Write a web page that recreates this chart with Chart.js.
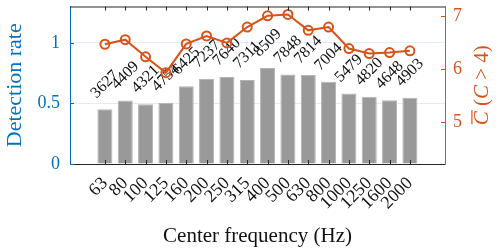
<!DOCTYPE html>
<html>
<head>
<meta charset="utf-8">
<script src="https://cdn.jsdelivr.net/npm/chart.js@4/dist/chart.umd.min.js"></script>
<style>
html,body{margin:0;padding:0;background:#fff;}
#wrap{width:500px;height:251px;position:relative;}
</style>
</head>
<body>
<div id="wrap"><canvas id="c" width="500" height="251"></canvas></div>
<script>
const categories = ['63','80','100','125','160','200','250','315','400','500','630','800','1000','1250','1600','2000'];
const detectionRate = [0.451,0.525,0.494,0.506,0.642,0.702,0.719,0.694,0.792,0.738,0.735,0.678,0.582,0.555,0.527,0.547];
const meanC = [6.467,6.553,6.231,5.933,6.473,6.622,6.492,6.790,7.000,7.026,6.728,6.790,6.386,6.292,6.311,6.343];
const counts = ['3627','4409','4321','4754','6425','7237','7640','7311','8509','7848','7814','7004','5479','4820','4648','4903'];
const leftTicks = [0,0.5,1];
const rightTicks = [5,6,7];

const BLUE = '#0072BD';
const ORANGE = '#D95319';
const DARK = '#262626';
const SERIF = '"Liberation Serif", "DejaVu Serif", serif';

const barPts = categories.map((c,i)=>({x:i+1,y:detectionRate[i]}));
const linePts = categories.map((c,i)=>({x:i+1,y:meanC[i]}));

const decor = {
  id:'decor',
  afterDatasetDraw(chart,args){
    if(args.index!==0) return;
    const ctx=chart.ctx;
    const meta=chart.getDatasetMeta(0);
    ctx.save();
    ctx.fillStyle='#111';
    ctx.font='16px '+SERIF;
    ctx.textAlign='center';
    ctx.textBaseline='middle';
    meta.data.forEach((el,i)=>{
      ctx.save();
      ctx.translate(el.x, el.y-25);
      ctx.rotate(-Math.PI/4);
      ctx.fillText(counts[i],0,0);
      ctx.restore();
    });
    ctx.restore();
  },
  afterDraw(chart){
    const ctx=chart.ctx, a=chart.chartArea;
    const xs=chart.scales.x, y=chart.scales.y, y2=chart.scales.y2;
    ctx.save();
    ctx.lineWidth=1;
    ctx.strokeStyle=DARK;
    ctx.beginPath();ctx.moveTo(a.left,a.top+0.5);ctx.lineTo(a.right,a.top+0.5);ctx.stroke();
    const tl=4;
    ctx.beginPath();
    for(let i=1;i<=categories.length;i++){
      const px=Math.round(xs.getPixelForValue(i))+0.5;
      ctx.moveTo(px,a.bottom);ctx.lineTo(px,a.bottom-tl);
      ctx.moveTo(px,a.top);ctx.lineTo(px,a.top+tl);
    }
    ctx.stroke();
    ctx.strokeStyle=BLUE;
    ctx.beginPath();
    leftTicks.forEach(v=>{const py=Math.round(y.getPixelForValue(v))+0.5;ctx.moveTo(a.left,py);ctx.lineTo(a.left+tl,py);});
    ctx.stroke();
    ctx.strokeStyle=ORANGE;
    ctx.beginPath();
    rightTicks.forEach(v=>{const py=Math.round(y2.getPixelForValue(v))+0.5;ctx.moveTo(a.right,py);ctx.lineTo(a.right-tl,py);});
    ctx.stroke();
    ctx.fillStyle=ORANGE;
    ctx.strokeStyle=ORANGE;
    ctx.translate(482,(a.top+a.bottom)/2);
    ctx.rotate(-Math.PI/2);
    const fs=21;
    const it='italic '+fs+'px '+SERIF, up=fs+'px '+SERIF;
    const parts=[[ 'C',it ],[' (',up],['C',it],[' > 4)',up]];
    let tot=0; parts.forEach(p=>{ctx.font=p[1];tot+=ctx.measureText(p[0]).width;});
    let cx=-tot/2;
    ctx.textBaseline='middle';
    ctx.textAlign='left';
    parts.forEach((p,k)=>{
      ctx.font=p[1];
      const w=ctx.measureText(p[0]).width;
      ctx.fillText(p[0],cx,0);
      if(k===0){
        ctx.lineWidth=1.2;
        ctx.beginPath();ctx.moveTo(cx+1,-fs*0.48);ctx.lineTo(cx+w+1,-fs*0.48);ctx.stroke();
      }
      cx+=w;
    });
    ctx.restore();
  }
};

new Chart(document.getElementById('c'),{
  type:'bar',
  data:{
    datasets:[
      {type:'bar',data:barPts,xAxisID:'x',yAxisID:'y',backgroundColor:'#999999',borderColor:'#b4b4b4',borderWidth:1,
       barPercentage:0.74,categoryPercentage:1,order:1},
      {type:'line',data:linePts,xAxisID:'x',yAxisID:'y2',borderColor:ORANGE,borderWidth:2,
       pointRadius:4.5,pointBorderWidth:2,pointBackgroundColor:'rgba(255,255,255,0)',pointBorderColor:ORANGE,
       fill:false,tension:0,order:0}
    ]
  },
  options:{
    responsive:false,
    animation:false,
    events:[],
    layout:{padding:{top:5,left:0,right:0,bottom:0}},
    plugins:{legend:{display:false},tooltip:{enabled:false}},
    scales:{
      x:{
        type:'linear',min:-0.14,max:17.15,
        afterBuildTicks(s){s.ticks=categories.map((c,i)=>({value:i+1}));},
        afterFit(s){s.height=87;s.paddingLeft=0;s.paddingRight=0;},
        grid:{display:false,drawTicks:false},
        border:{display:true,color:DARK,width:1},
        ticks:{autoSkip:false,minRotation:45,maxRotation:45,padding:9,color:'#111',
          font:{family:SERIF,size:18},
          callback(v){return categories[v-1];}},
        title:{display:true,text:'Center frequency (Hz)',color:'#111',font:{family:SERIF,size:21},padding:{top:0,bottom:2}}
      },
      y:{
        position:'left',min:0,max:1.3,
        afterBuildTicks(s){s.ticks=leftTicks.map(v=>({value:v}));},
        afterFit(s){s.width=70;s.paddingTop=0;s.paddingBottom=0;},
        grid:{color:'rgba(0,114,189,0.13)',drawTicks:false},
        border:{display:true,color:BLUE,width:1},
        ticks:{color:BLUE,padding:10,font:{family:SERIF,size:18},callback(v){return String(v);}},
        title:{display:true,text:'Detection rate',color:BLUE,font:{family:SERIF,size:22},padding:{top:2,bottom:0}}
      },
      y2:{
        position:'right',min:4.22,max:7.175,
        afterBuildTicks(s){s.ticks=rightTicks.map(v=>({value:v}));},
        afterFit(s){s.width=55;s.paddingTop=0;s.paddingBottom=0;},
        grid:{display:false,drawTicks:false},
        border:{display:true,color:ORANGE,width:1},
        ticks:{color:ORANGE,padding:8,font:{family:SERIF,size:18},callback(v){return String(v);}}
      }
    }
  },
  plugins:[decor]
});
</script>
</body>
</html>
